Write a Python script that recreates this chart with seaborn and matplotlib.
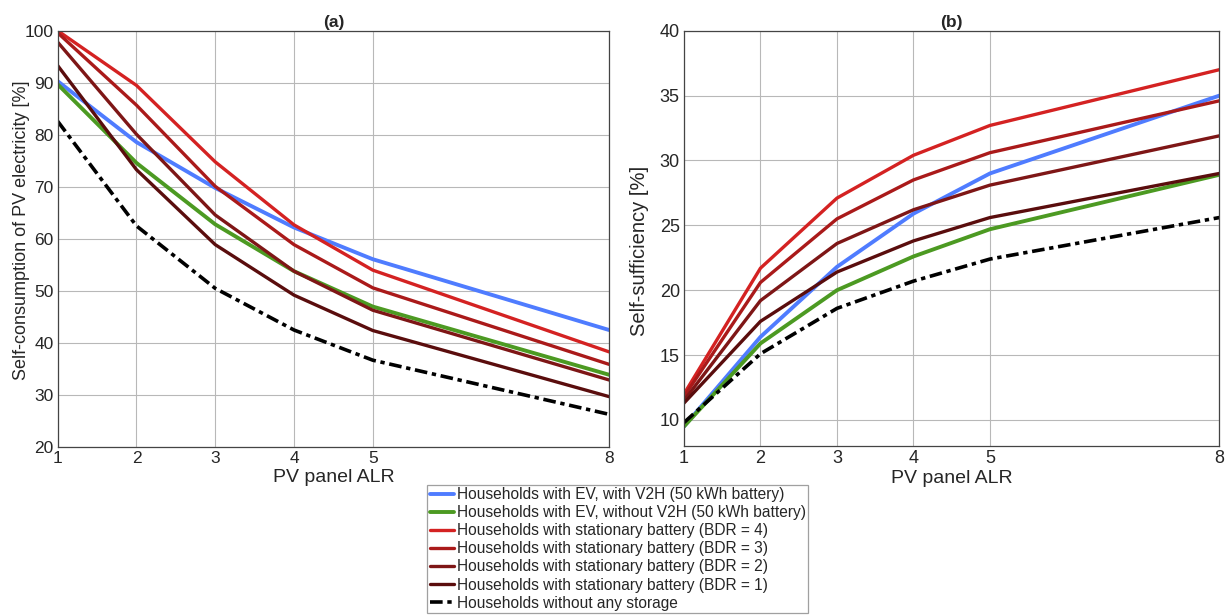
import matplotlib
matplotlib.use("Agg")
import matplotlib.pyplot as plt
import seaborn as sns

# PV panel ALR values on the x axis
alr = [1, 2, 3, 4, 5, 8]

# (a) self-consumption of PV electricity [%]
sc_ev_v2h = [90.3, 78.6, 69.8, 62.2, 56.1, 42.5]
sc_ev_no_v2h = [89.7, 74.6, 62.8, 53.8, 47.0, 33.9]
sc_bdr4 = [100.0, 89.5, 74.8, 62.7, 54.0, 38.3]
sc_bdr3 = [99.6, 85.7, 70.1, 58.9, 50.6, 35.9]
sc_bdr2 = [97.8, 80.1, 64.6, 53.8, 46.3, 32.9]
sc_bdr1 = [93.3, 73.3, 58.9, 49.2, 42.4, 29.7]
sc_none = [82.6, 62.5, 50.5, 42.5, 36.7, 26.3]

# (b) self-sufficiency [%]
ss_ev_v2h = [9.5, 16.4, 21.8, 25.9, 29.0, 35.0]
ss_ev_no_v2h = [9.5, 15.9, 20.0, 22.6, 24.7, 28.9]
ss_bdr4 = [12.0, 21.7, 27.1, 30.4, 32.7, 37.0]
ss_bdr3 = [11.8, 20.6, 25.5, 28.5, 30.6, 34.6]
ss_bdr2 = [11.5, 19.2, 23.6, 26.2, 28.1, 31.9]
ss_bdr1 = [11.3, 17.6, 21.4, 23.8, 25.6, 29.0]
ss_none = [9.8, 15.1, 18.6, 20.7, 22.4, 25.6]

labels = [
    "Households with EV, with V2H (50 kWh battery)",
    "Households with EV, without V2H (50 kWh battery)",
    "Households with stationary battery (BDR = 4)",
    "Households with stationary battery (BDR = 3)",
    "Households with stationary battery (BDR = 2)",
    "Households with stationary battery (BDR = 1)",
    "Households without any storage",
]
colors = ["#4f7cff", "#4c9a22", "#d42222", "#aa1a1a", "#7e1616", "#5a0d0d", "#000000"]
widths = [2.8, 2.8, 2.4, 2.4, 2.4, 2.4, 2.6]
styles = ["-"] * 6 + [(0, (3.5, 1.3, 1.2, 1.3))]

sns.set_style("white")
plt.rcParams["font.family"] = ["Liberation Sans", "DejaVu Sans"]

fig = plt.figure(figsize=(12.28, 6.15), dpi=100)
ax_a = fig.add_axes([0.047, 0.273, 0.449, 0.677])
ax_b = fig.add_axes([0.557, 0.275, 0.436, 0.675])

panels = [
    (ax_a, [sc_ev_v2h, sc_ev_no_v2h, sc_bdr4, sc_bdr3, sc_bdr2, sc_bdr1, sc_none],
     "(a)", "Self-consumption of PV electricity [%]", (20, 100), range(20, 101, 10),
     12.5, 13, (-0.05, 0.52)),
    (ax_b, [ss_ev_v2h, ss_ev_no_v2h, ss_bdr4, ss_bdr3, ss_bdr2, ss_bdr1, ss_none],
     "(b)", "Self-sufficiency [%]", (8, 40), range(10, 41, 5),
     13, 14.5, (-0.066, 0.47)),
]

for ax, series, title, ylabel, ylim, yticks, tfs, lfs, lpos in panels:
    for vals, lab, c, lw, ls in zip(series, labels, colors, widths, styles):
        sns.lineplot(x=alr, y=vals, ax=ax, color=c, linewidth=lw, linestyle=ls, label=lab, legend=False)
    ax.set_xlim(1, 8)
    ax.set_ylim(*ylim)
    ax.set_xticks(alr)
    ax.set_yticks(list(yticks))
    ax.grid(True, color="#b8b8b8", linewidth=0.8)
    ax.set_axisbelow(True)
    for sp in ax.spines.values():
        sp.set_color("#444444")
        sp.set_linewidth(0.9)
    ax.tick_params(labelsize=tfs, length=0, pad=3)
    ax.set_title(title, fontsize=12.5, fontweight="bold", pad=3)
    ax.set_xlabel("PV panel ALR", fontsize=14, labelpad=2)
    ax.set_ylabel(ylabel, fontsize=lfs)
    ax.yaxis.set_label_coords(*lpos)

handles, _ = ax_a.get_legend_handles_labels()
leg = fig.legend(handles, labels, loc="upper center", bbox_to_anchor=(0.503, 0.212),
                 fontsize=11.2, frameon=True, fancybox=False, edgecolor="#888888",
                 handlelength=1.6, handletextpad=0.15, labelspacing=0.2,
                 borderpad=0.15, borderaxespad=0)
leg.get_frame().set_linewidth(0.9)

fig.savefig("out.png", dpi=100)
